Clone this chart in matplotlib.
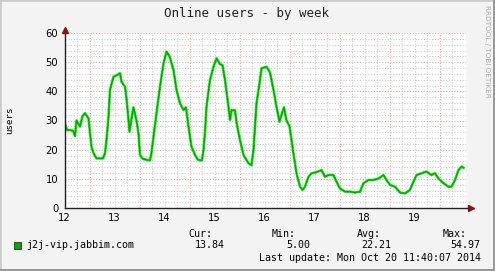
import numpy as np
import matplotlib.pyplot as plt
from matplotlib.patches import Rectangle

# values (x = day of month, y = online users)
days = [12.01, 12.05, 12.11, 12.17, 12.21, 12.24, 12.31, 12.36, 12.41, 12.48,
        12.51, 12.54, 12.58, 12.64, 12.77, 12.81, 12.84, 12.88, 12.91, 12.98,
        13.04, 13.11, 13.14, 13.21, 13.24, 13.28, 13.30, 13.34, 13.38, 13.44,
        13.48, 13.51, 13.57, 13.71, 13.74, 13.78, 13.84, 13.91, 13.98, 14.04,
        14.10, 14.18, 14.24, 14.31, 14.38, 14.43, 14.48, 14.54, 14.61, 14.67,
        14.75, 14.78, 14.81, 14.84, 14.91, 14.98, 15.04, 15.11, 15.16, 15.21,
        15.28, 15.31, 15.34, 15.41, 15.44, 15.51, 15.58, 15.68, 15.74, 15.78,
        15.81, 15.84, 15.90, 15.94, 16.04, 16.11, 16.18, 16.24, 16.30, 16.34,
        16.39, 16.44, 16.50, 16.54, 16.58, 16.64, 16.71, 16.76, 16.81, 16.88,
        16.94, 17.04, 17.14, 17.21, 17.28, 17.38, 17.44, 17.51, 17.61, 17.71,
        17.81, 17.91, 17.98, 18.08, 18.18, 18.28, 18.38, 18.44, 18.51, 18.61,
        18.71, 18.81, 18.91, 18.98, 19.04, 19.14, 19.24, 19.34, 19.41, 19.48,
        19.58, 19.68, 19.74, 19.81, 19.88, 19.94, 19.98]
users = [29.0, 26.7, 26.7, 26.5, 24.7, 30.0, 27.9, 31.5, 32.5, 30.7,
         25.7, 21.0, 18.8, 17.0, 17.0, 18.8, 23.3, 31.3, 40.5, 45.0,
         45.5, 46.2, 43.3, 41.6, 37.6, 30.2, 26.2, 30.7, 34.5, 30.0,
         25.6, 18.2, 16.8, 16.3, 19.0, 24.4, 32.5, 41.6, 49.6, 53.6,
         52.0, 47.3, 40.5, 35.9, 33.6, 34.5, 27.9, 21.0, 18.2, 16.5,
         16.3, 19.9, 26.0, 34.7, 43.9, 48.4, 51.3, 49.3, 49.0, 43.9,
         34.7, 30.2, 33.5, 33.5, 29.3, 23.3, 18.2, 15.3, 14.7, 19.9,
         27.9, 35.9, 42.7, 47.9, 48.4, 46.5, 40.5, 34.7, 29.6, 31.9,
         34.5, 30.0, 28.0, 23.3, 18.7, 11.9, 7.3, 6.2, 7.3, 10.7,
         11.9, 12.3, 13.0, 10.7, 11.3, 11.3, 9.0, 6.7, 5.6, 5.6,
         5.3, 5.6, 8.5, 9.6, 9.6, 10.1, 11.3, 9.6, 7.9, 7.3,
         5.3, 5.0, 6.2, 9.0, 11.3, 11.9, 12.5, 11.3, 11.9, 10.1,
         8.5, 7.3, 7.3, 9.6, 13.0, 14.2, 13.8]

day_labels = ['12', '13', '14', '15', '16', '17', '18', '19']
y_ticks = [0, 10, 20, 30, 40, 50, 60]
source_name = 'j2j-vip.jabbim.com'
stat_names = ['Cur:', 'Min:', 'Avg:', 'Max:']
stat_values = ['13.84', '5.00', '22.21', '54.97']

W, H = 495, 271
mono = 'DejaVu Sans Mono'


def fx(px):
    return px / W


def fy(py):
    return 1 - py / H


fig = plt.figure(figsize=(W / 100, H / 100), dpi=100, facecolor='#f3f3f3')

# 3d-ish frame like rrdtool's shade
fig.add_artist(Rectangle((0, 0), 1, 1, transform=fig.transFigure,
                         fill=False, edgecolor='#cbcbcb', lw=2))
fig.add_artist(Rectangle((0, 0), 1, 2 / H, transform=fig.transFigure,
                         color='#9a9a9a', lw=0))
fig.add_artist(Rectangle((1 - 2 / W, 0), 2 / W, 1, transform=fig.transFigure,
                         color='#9a9a9a', lw=0))

x0, x1 = 12.0, 20.03
ax = fig.add_axes([fx(64.5), fy(208), fx(466 - 64.5), 175 / H])
ax.set_facecolor('white')
ax.set_xlim(x0, x1)
ax.set_ylim(0, 60)

# grid: gray every 6h / 2 users, red every day / 10 users
for gx in np.arange(12.25, 20.0, 0.25):
    red = abs((gx - 12.5) % 1) < 1e-6
    ax.axvline(gx, color='#e8a8a8' if red else '#d0d0d0', lw=0.8,
               ls=(0, (1, 1.5)), zorder=1)
for gy in range(2, 61, 2):
    red = gy % 10 == 0
    ax.axhline(gy, color='#e8a8a8' if red else '#d0d0d0', lw=0.8,
               ls=(0, (1, 1.5)), zorder=1)

ax.plot(days, users, color='#22ee22', lw=1.9, zorder=3)
ax.plot(days, users, color='#00a000', lw=0.9, zorder=4)

for s in ax.spines.values():
    s.set_visible(False)

# axes with arrows
ax.plot([x0, x0], [0, 60.3], color='#202020', lw=1, clip_on=False, zorder=5)
ax.plot([x0, x1 + 0.02], [0, 0], color='#202020', lw=1, clip_on=False, zorder=5)
ax.plot([x0], [61.2], marker='^', ms=4, color='#8b1010', clip_on=False, zorder=6)
ax.plot([x1 + 0.09], [0], marker='>', ms=4, color='#8b1010', clip_on=False, zorder=6)

ax.set_xticks(range(12, 20))
ax.set_xticklabels(day_labels)
ax.set_yticks(y_ticks)
ax.tick_params(length=0, labelsize=7.2, colors='black')
ax.tick_params(axis='x', pad=3.5)
ax.tick_params(axis='y', pad=4.5)

fig.text(fx(246.5), fy(14), 'Online users - by week', family=mono, fontsize=9.0,
         ha='center', va='center', color='#202020')
fig.text(fx(10), fy(120), 'users', family=mono, fontsize=6.6, rotation=90,
         ha='center', va='center')
fig.text(fx(487), fy(5), 'RRDTOOL / TOBI OETIKER', fontsize=5.2, color='#aaaaaa',
         rotation=270, ha='center', va='top')

# legend block
fig.add_artist(Rectangle((fx(13.5), fy(249)), 7 / W, 7 / H, transform=fig.transFigure,
                         facecolor='#00a800', edgecolor='#303030', lw=0.6))
fig.text(fx(26.5), fy(245.3), source_name, family=mono, fontsize=7.2,
         ha='left', va='center')
head_x = [212, 296, 381, 467]
val_x = [225, 310, 391, 480]
for name, hx in zip(stat_names, head_x):
    fig.text(fx(hx), fy(233.7), name, family=mono, fontsize=7.2, ha='right', va='center')
for val, vx in zip(stat_values, val_x):
    fig.text(fx(vx), fy(245.3), val, family=mono, fontsize=7.2, ha='right', va='center')
fig.text(fx(481), fy(257.7), 'Last update: Mon Oct 20 11:40:07 2014', family=mono,
         fontsize=7.2, ha='right', va='center')

fig.savefig('out.png', dpi=100, facecolor=fig.get_facecolor())
